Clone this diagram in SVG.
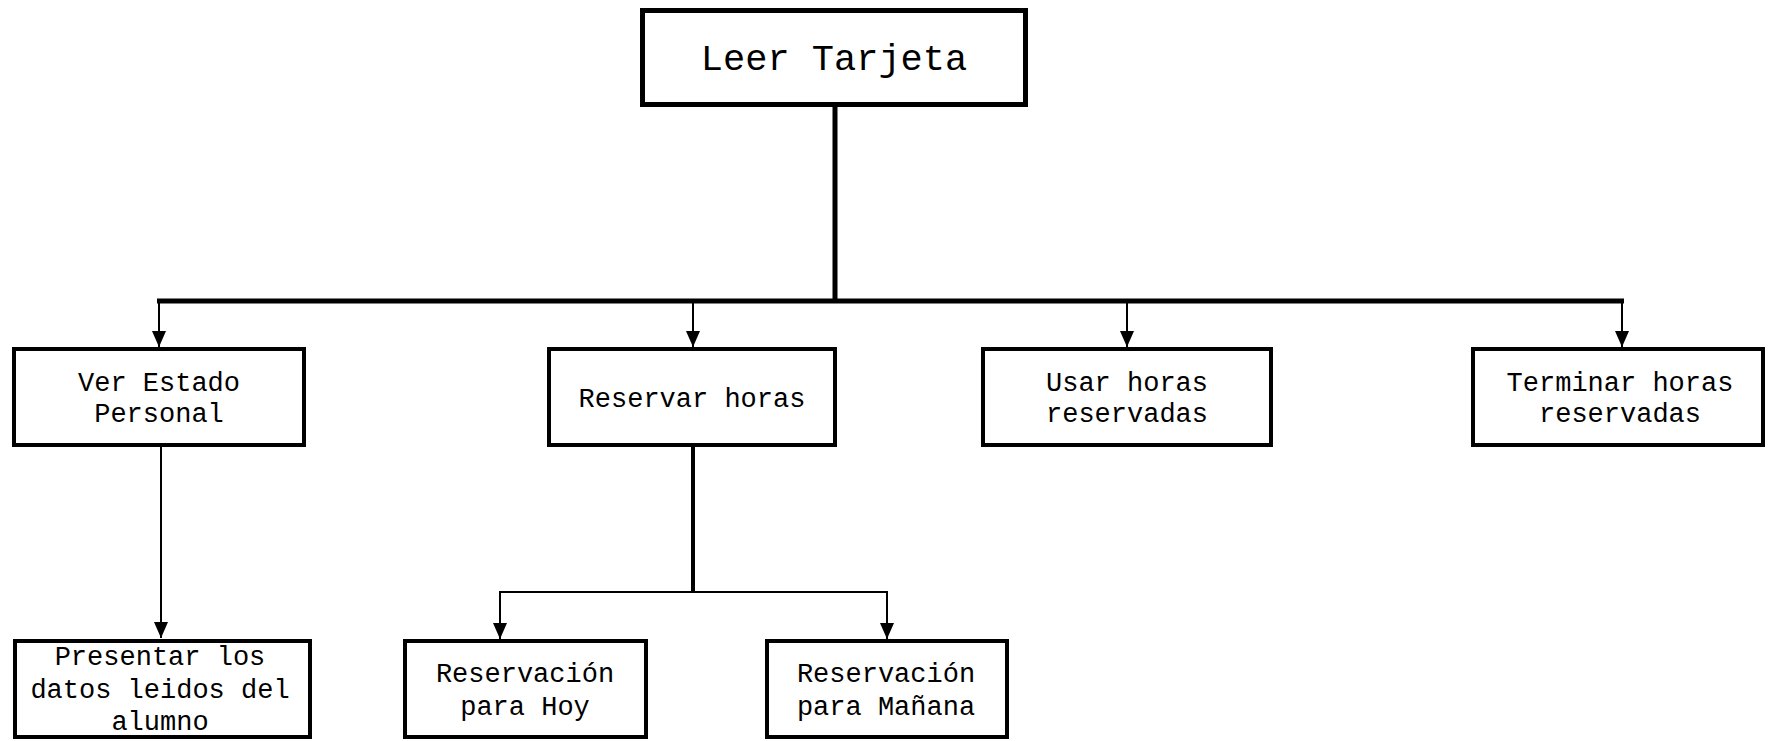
<svg xmlns="http://www.w3.org/2000/svg" width="1774" height="741" viewBox="0 0 1774 741">
<style>
.box{fill:#fff;stroke:#000;stroke-width:4}
.t{font-family:"Courier New","Liberation Mono",monospace;font-size:27px;fill:#000;text-anchor:middle}
.thick{stroke:#000;stroke-width:5;fill:none}
.thin{stroke:#000;stroke-width:2;fill:none}
</style>
<defs>
<marker id="ah" markerUnits="userSpaceOnUse" viewBox="0 0 16 14" refX="16" refY="7" markerWidth="16" markerHeight="14" orient="auto">
<path d="M0,0 L16,7 L0,14 Z" fill="#000"/>
</marker>
</defs>
<rect width="1774" height="741" fill="#fff"/>
<g id="connectors">
<line class="thick" x1="835" y1="107" x2="835" y2="301"/>
<line class="thick" x1="157" y1="301" x2="1624" y2="301"/>
<line class="thin" x1="159" y1="301" x2="159" y2="347" marker-end="url(#ah)"/>
<line class="thin" x1="693" y1="301" x2="693" y2="347" marker-end="url(#ah)"/>
<line class="thin" x1="1127" y1="301" x2="1127" y2="347" marker-end="url(#ah)"/>
<line class="thin" x1="1622" y1="301" x2="1622" y2="347" marker-end="url(#ah)"/>
<line class="thin" x1="161" y1="447" x2="161" y2="638" marker-end="url(#ah)"/>
<line class="thick" x1="693" y1="447" x2="693" y2="593" style="stroke-width:4"/>
<line class="thin" x1="499" y1="592" x2="888" y2="592"/>
<line class="thin" x1="500" y1="592" x2="500" y2="639" marker-end="url(#ah)"/>
<line class="thin" x1="887" y1="592" x2="887" y2="639" marker-end="url(#ah)"/>
</g>
<g id="leer">
<rect class="box" x="642.5" y="10.5" width="383" height="94" style="stroke-width:5"/>
<text class="t" x="834" y="70" style="font-size:37px">Leer Tarjeta</text>
</g>
<g id="ver">
<rect class="box" x="14" y="349" width="290" height="96"/>
<text class="t" x="159" y="391">Ver Estado</text>
<text class="t" x="159" y="422">Personal</text>
</g>
<g id="reservar">
<rect class="box" x="549" y="349" width="286" height="96"/>
<text class="t" x="692" y="407">Reservar horas</text>
</g>
<g id="usar">
<rect class="box" x="983" y="349" width="288" height="96"/>
<text class="t" x="1127" y="391">Usar horas</text>
<text class="t" x="1127" y="422">reservadas</text>
</g>
<g id="terminar">
<rect class="box" x="1473" y="349" width="290" height="96"/>
<text class="t" x="1620" y="391">Terminar horas</text>
<text class="t" x="1620" y="422">reservadas</text>
</g>
<g id="presentar">
<rect class="box" x="15" y="641" width="295" height="96"/>
<text class="t" x="160" y="665">Presentar los</text>
<text class="t" x="160" y="698">datos leidos del</text>
<text class="t" x="160" y="730">alumno</text>
</g>
<g id="hoy">
<rect class="box" x="405" y="641" width="241" height="96"/>
<text class="t" x="525" y="682">Reservación</text>
<text class="t" x="525" y="715">para Hoy</text>
</g>
<g id="manana">
<rect class="box" x="767" y="641" width="240" height="96"/>
<text class="t" x="886" y="682">Reservación</text>
<text class="t" x="886" y="715">para Mañana</text>
</g>
</svg>
